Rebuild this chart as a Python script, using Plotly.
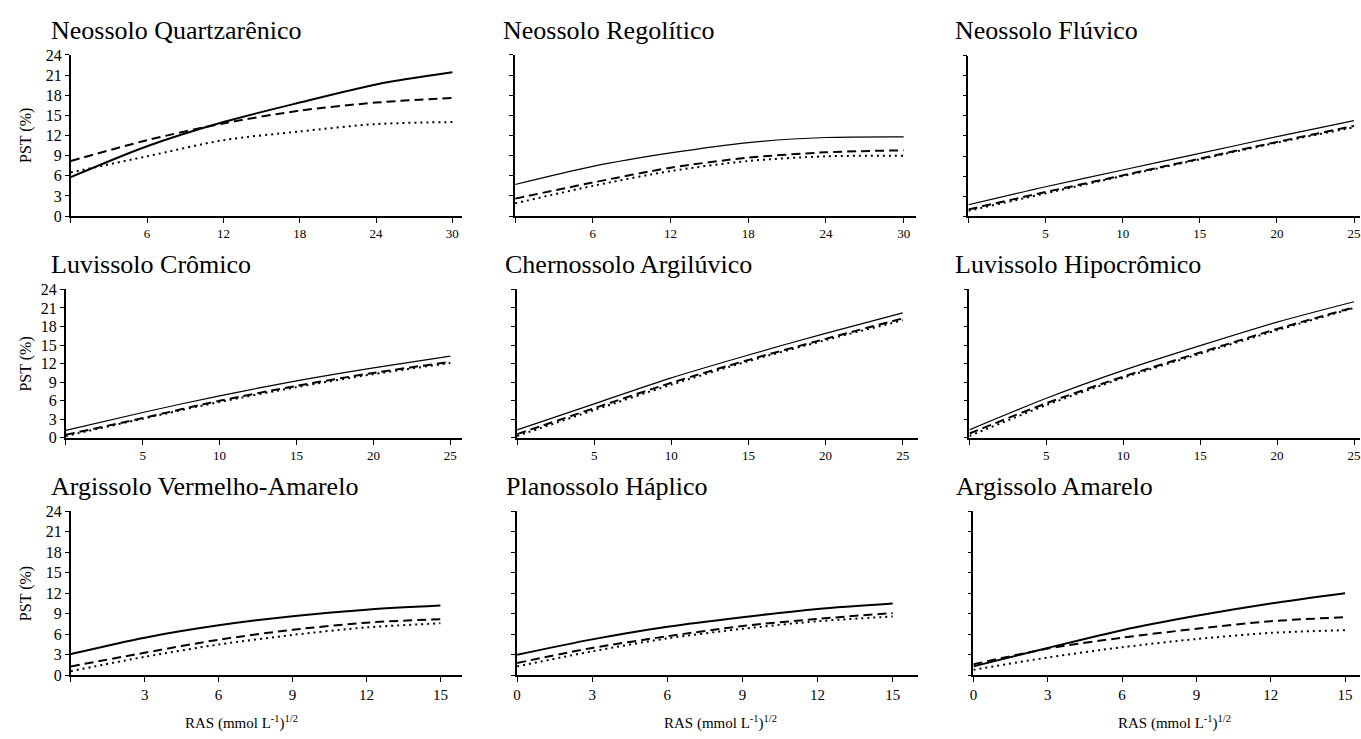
import plotly.graph_objects as go

W, H = 1361, 739

titles = ["Neossolo Quartzarênico", "Neossolo Regolítico", "Neossolo Flúvico",
          "Luvissolo Crômico", "Chernossolo Argilúvico", "Luvissolo Hipocrômico",
          "Argissolo Vermelho-Amarelo", "Planossolo Háplico", "Argissolo Amarelo"]

x_row1 = [0, 6, 12, 18, 24, 30]
x_row2 = [0, 5, 10, 15, 20, 25]
x_row3 = [0, 3, 6, 9, 12, 15]

# PST (%) values: solid, dashed, dotted per soil
quartz_solid = [5.8, 10.4, 14.0, 16.9, 19.6, 21.4]
quartz_dash = [8.2, 11.3, 13.8, 15.7, 16.9, 17.6]
quartz_dot = [6.5, 8.9, 11.3, 12.6, 13.7, 14.0]

rego_solid = [4.7, 7.4, 9.4, 10.95, 11.7, 11.8]
rego_dash = [2.6, 5.0, 7.2, 8.7, 9.5, 9.8]
rego_dot = [1.9, 4.5, 6.7, 8.2, 8.9, 9.0]

fluv_solid = [1.7, 4.4, 6.9, 9.4, 11.9, 14.3]
fluv_dash = [1.0, 3.6, 6.1, 8.6, 11.1, 13.5]
fluv_dot = [0.8, 3.4, 6.0, 8.5, 11.0, 13.3]

lcrom_solid = [1.2, 4.1, 6.8, 9.2, 11.3, 13.2]
lcrom_dash = [0.5, 3.2, 6.0, 8.4, 10.5, 12.3]
lcrom_dot = [0.3, 3.1, 5.8, 8.2, 10.3, 12.1]

cher_solid = [1.3, 5.5, 9.7, 13.4, 16.9, 20.2]
cher_dash = [0.6, 4.8, 8.9, 12.6, 16.0, 19.3]
cher_dot = [0.3, 4.5, 8.6, 12.4, 15.8, 19.0]

lhip_solid = [1.3, 6.4, 10.9, 14.9, 18.7, 22.0]
lhip_dash = [0.7, 5.6, 9.9, 13.8, 17.6, 21.1]
lhip_dot = [0.3, 5.3, 9.7, 13.6, 17.4, 21.0]

ava_solid = [3.1, 5.5, 7.3, 8.65, 9.6, 10.2]
ava_dash = [1.3, 3.3, 5.2, 6.65, 7.7, 8.2]
ava_dot = [0.6, 2.7, 4.5, 5.9, 7.0, 7.6]

plan_solid = [3.0, 5.25, 7.1, 8.5, 9.7, 10.5]
plan_dash = [1.8, 4.0, 5.7, 7.2, 8.25, 9.1]
plan_dot = [1.3, 3.5, 5.4, 6.8, 7.9, 8.6]

aam_solid = [1.3, 4.0, 6.6, 8.7, 10.5, 12.0]
aam_dash = [1.6, 3.9, 5.5, 6.8, 7.9, 8.5]
aam_dot = [0.8, 2.6, 4.1, 5.3, 6.2, 6.6]

y_ticks = [0, 3, 6, 9, 12, 15, 18, 21, 24]
row1_ticks = [0, 6, 12, 18, 24, 30]
row1_text = ["", "6", "12", "18", "24", "30"]
row2_ticks = [0, 5, 10, 15, 20, 25]
row2_text = ["", "5", "10", "15", "20", "25"]
row3_ticks = [0, 3, 6, 9, 12, 15]
row3_text_a = ["", "3", "6", "9", "12", "15"]
row3_text_b = ["0", "3", "6", "9", "12", "15"]

x_title = "RAS (mmol L<sup>-1</sup>)<sup>1/2</sup>"
y_title = "PST (%)"

panels = [
    (x_row1, quartz_solid, quartz_dash, quartz_dot),
    (x_row1, rego_solid, rego_dash, rego_dot),
    (x_row2, fluv_solid, fluv_dash, fluv_dot),
    (x_row2, lcrom_solid, lcrom_dash, lcrom_dot),
    (x_row2, cher_solid, cher_dash, cher_dot),
    (x_row2, lhip_solid, lhip_dash, lhip_dot),
    (x_row3, ava_solid, ava_dash, ava_dot),
    (x_row3, plan_solid, plan_dash, plan_dot),
    (x_row3, aam_solid, aam_dash, aam_dot),
]

# layout geometry in pixels: (x0 px of value 0, x px of last tick, x px end of axis, last tick value, y0 px, y24 px)
geom = [
    (67, 450, 460, 30, 213, 48),
    (513, 903, 915, 30, 213, 48),
    (968, 1355, 1361, 25, 213, 49),
    (62, 448, 460, 25, 440, 288),
    (515, 902, 917, 25, 440, 288),
    (969, 1355, 1361, 25, 440, 288),
    (67, 438, 460, 15, 683, 515),
    (515, 892, 917, 15, 683, 515),
    (973, 1346, 1361, 15, 683, 515),
]
solid_w = [2, 1.2, 1.2, 1.2, 1.2, 1.2, 2, 2, 2]
tickvals_x = [row1_ticks, row1_ticks, row2_ticks, row2_ticks, row2_ticks, row2_ticks,
              row3_ticks, row3_ticks, row3_ticks]
ticktext_x = [row1_text, row1_text, row2_text, row2_text, row2_text, row2_text,
              row3_text_a, row3_text_b, row3_text_b]
xtick_size = [13, 13, 13, 13, 13, 13, 15, 15, 15]

FONT = "Liberation Serif"

fig = go.Figure()
layout = dict(width=W, height=H, autosize=False, margin=dict(l=0, r=0, t=0, b=0, pad=0),
              paper_bgcolor="white", plot_bgcolor="white", showlegend=False,
              font=dict(family=FONT, color="black"))

annotations = []
for i, ((xs, s, d, o), g) in enumerate(zip(panels, geom)):
    n = "" if i == 0 else str(i + 1)
    x0, xt, xe, tv, y0, y24 = g
    xmax = tv * (xe - x0) / (xt - x0)
    xa = "x" + n
    ya = "y" + n
    for vals, dash, w in ((s, "solid", solid_w[i]), (d, "9px,5px", 2), (o, "2px,4px", 2)):
        fig.add_trace(go.Scatter(x=xs, y=vals, mode="lines", xaxis=xa, yaxis=ya,
                                 line=dict(color="black", width=w, dash=dash, shape="spline", smoothing=0.8),
                                 hoverinfo="skip", cliponaxis=False))
    layout["xaxis" + n] = dict(domain=[x0 / W, xe / W], range=[0, xmax], anchor=ya,
                               showgrid=False, zeroline=False, showline=True, linecolor="black", linewidth=1.5,
                               ticks="outside", ticklen=5, tickwidth=1, tickcolor="black",
                               tickvals=tickvals_x[i], ticktext=ticktext_x[i], ticklabeloverflow="allow",
                               tickfont=dict(family=FONT, size=xtick_size[i], color="black"))
    layout["yaxis" + n] = dict(domain=[1 - y0 / H, 1 - y24 / H], range=[0, 24], anchor=xa,
                               showgrid=False, zeroline=False, showline=True, linecolor="black", linewidth=1.5,
                               ticks="outside", ticklen=4, tickwidth=1, tickcolor="black",
                               tickvals=y_ticks, showticklabels=(i % 3 == 0),
                               tickfont=dict(family=FONT, size=16, color="black"))

title_pos = [(46, 23), (500, 23), (954, 23), (46, 263), (502, 263), (954, 263),
             (46, 490), (503, 490), (955, 490)]
for t, (px, py) in zip(titles, title_pos):
    annotations.append(dict(text=t, x=px / W, y=1 - py / H, xref="paper", yref="paper",
                            xanchor="left", yanchor="middle", showarrow=False, borderpad=0,
                            font=dict(family=FONT, size=26, color="black")))

for py in (130, 364, 599):
    annotations.append(dict(text=y_title, x=22 / W, y=1 - py / H, xref="paper", yref="paper",
                            xanchor="center", yanchor="middle", showarrow=False, textangle=-90,
                            font=dict(family=FONT, size=16, color="black")))

for px in (238, 719, 1175):
    annotations.append(dict(text=x_title, x=px / W, y=1 - 731 / H, xref="paper", yref="paper",
                            xanchor="center", yanchor="middle", showarrow=False,
                            font=dict(family=FONT, size=15, color="black")))

layout["annotations"] = annotations
fig.update_layout(**layout)
fig.write_html("out.html", config={"displayModeBar": False},
               post_script="document.body.style.margin='0';document.body.style.padding='0';document.body.style.overflow='hidden';")
